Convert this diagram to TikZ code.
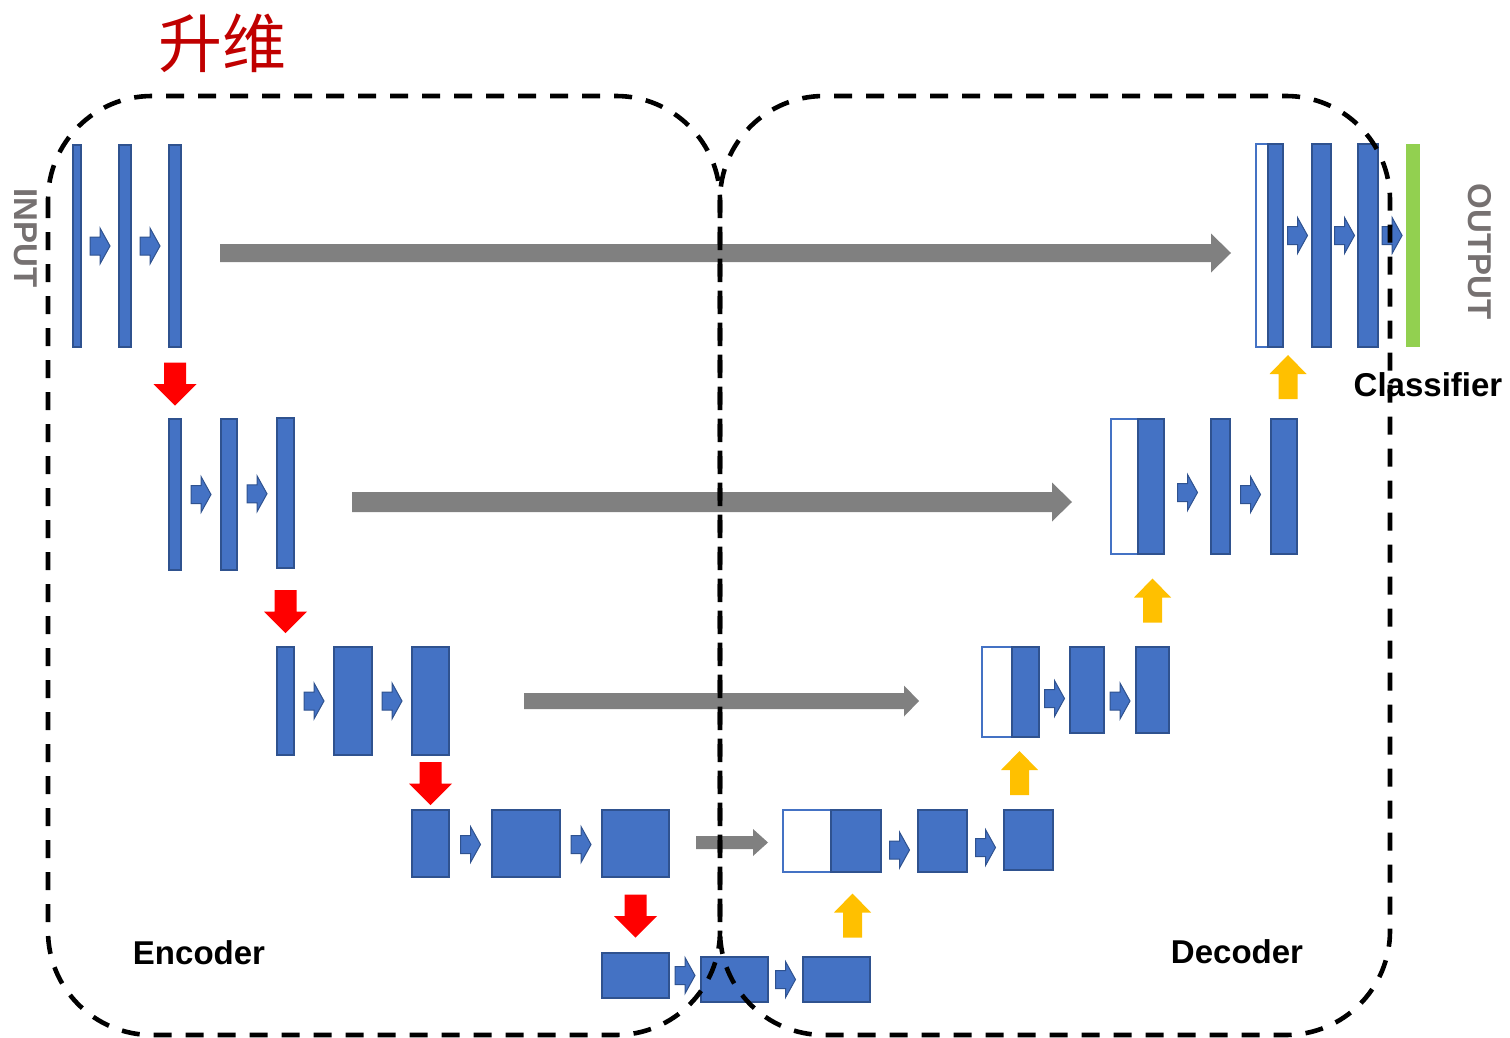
\documentclass[tikz,border=0pt]{standalone}
\usepackage{fontspec}
\newfontfamily\arial{Liberation Sans}
\newfontfamily\cjk{Noto Sans CJK SC}
\usetikzlibrary{fit,calc}

\definecolor{blockblue}{HTML}{4472C4}
\definecolor{edgeblue}{HTML}{2F528F}
\definecolor{downred}{HTML}{FF0000}
\definecolor{upgold}{HTML}{FFC000}
\definecolor{skipgray}{HTML}{808080}
\definecolor{outgreen}{HTML}{92D050}
\definecolor{titlered}{HTML}{C00000}
\definecolor{iogray}{HTML}{767171}

\tikzset{
  blk/.style={fill=blockblue, draw=edgeblue, line width=0.6pt, inner sep=0pt},
  wblk/.style={fill=white, draw=blockblue, line width=0.9pt, inner sep=0pt},
  gblk/.style={fill=outgreen, inner sep=0pt},
  lbl/.style={font=\arial\bfseries\fontsize{16.5}{20}\selectfont, inner sep=0pt},
  io/.style={font=\arial\bfseries\fontsize{16.5}{20}\selectfont, text=iogray, inner sep=0pt, rotate=-90},
  dashbox/.style={draw=black, line width=2.3pt, dash pattern=on 9pt off 7pt, rounded corners=52pt},
  sarr/.pic={\filldraw[fill=blockblue, draw=edgeblue, line width=0.5pt]
      (-10,-9) -- (0,-9) -- (0,-18) -- (10,0) -- (0,18) -- (0,9) -- (-10,9) -- cycle;},
  redarr/.pic={\fill[downred]
      (-11,-21.5) -- (11,-21.5) -- (11,0) -- (21.5,0) -- (0,21.5) -- (-21.5,0) -- (-11,0) -- cycle;},
  yelarr/.pic={\fill[upgold]
      (-9.5,22) -- (9.5,22) -- (9.5,-3) -- (18.5,-3) -- (0,-22) -- (-18.5,-3) -- (-9.5,-3) -- cycle;},
}

% a feature-map block spanning two corners
\newcommand\blockat[6]{\node[#1, fit={(#3,#4) (#5,#6)}] (#2) {};}
% small convolution arrow between two blocks, with a vertical offset
\newcommand\stepto[3]{\pic at ($(#1.east)!0.5!(#2.west)+(0,#3)$) {sarr};}
% wide skip-connection arrow: start, end, half body, half head, head length
\newcommand\skiparrow[5]{\fill[skipgray] ($(#1)+(0,-#3)$) -- ($(#2)+(-#5,-#3)$) -- ($(#2)+(-#5,-#4)$) -- (#2)
   -- ($(#2)+(-#5,#4)$) -- ($(#2)+(-#5,#3)$) -- ($(#1)+(0,#3)$) -- cycle;}

\begin{document}
\begin{tikzpicture}[x=0.5pt, y=-0.5pt]
\useasboundingbox (0,0) rectangle (1510,1038);

% ---------- skip connections ----------
\coordinate (g1s) at (220,253);  \coordinate (g1e) at (1231,253);
\coordinate (g2s) at (352,502);  \coordinate (g2e) at (1072,502);
\coordinate (g3s) at (524,701);  \coordinate (g3e) at (919,701);
\coordinate (g4s) at (696,842.5);\coordinate (g4e) at (768,842.5);
\skiparrow{g1s}{g1e}{9}{19.5}{20}
\skiparrow{g2s}{g2e}{10}{19.5}{20}
\skiparrow{g3s}{g3e}{8}{15.5}{15}
\skiparrow{g4s}{g4e}{6.5}{13.5}{15}

% ---------- encoder ----------
\blockat{blk}{e11}{73}{145}{81}{347}
\blockat{blk}{e12}{119}{145}{131}{347}
\blockat{blk}{e13}{169}{145}{181}{347}
\stepto{e11}{e12}{0}
\stepto{e12}{e13}{0}

\blockat{blk}{e21}{169}{419}{181}{570}
\blockat{blk}{e22}{221}{419}{237}{570}
\blockat{blk}{e23}{277}{418}{294}{568}
\stepto{e21}{e22}{0}
\stepto{e22}{e23}{0}

\blockat{blk}{e31}{277}{647}{294}{755}
\blockat{blk}{e32}{334}{647}{372}{755}
\blockat{blk}{e33}{412}{647}{449}{755}
\stepto{e31}{e32}{0}
\stepto{e32}{e33}{0}

\blockat{blk}{e41}{412}{810}{449}{877}
\blockat{blk}{e42}{492}{810}{560}{877}
\blockat{blk}{e43}{602}{810}{669}{877}
\stepto{e41}{e42}{1}
\stepto{e42}{e43}{1}

% ---------- bottleneck ----------
\blockat{blk}{b1}{602}{953}{669}{998}
\blockat{blk}{b2}{701}{957}{768}{1002}
\blockat{blk}{b3}{803}{957}{870}{1002}
\stepto{b1}{b2}{-2}
\stepto{b2}{b3}{0}

% ---------- down-sampling ----------
\pic at ($(e13.south)+(0,36.5)$) {redarr};
\pic at ($(e23.south)+(0,43)$) {redarr};
\pic at ($(e33.south)+(0,28)$) {redarr};
\pic at ($(e43.south)+(0,38.5)$) {redarr};

% ---------- decoder ----------
\blockat{wblk}{d41w}{783}{810}{831}{872}
\blockat{blk}{d41}{831}{810}{881}{872}
\blockat{blk}{d42}{918}{810}{967}{872}
\blockat{blk}{d43}{1004}{810}{1053}{870}
\stepto{d41}{d42}{9}
\stepto{d42}{d43}{7}

\blockat{wblk}{d31w}{982}{647}{1012}{737}
\blockat{blk}{d31}{1012}{647}{1039}{737}
\blockat{blk}{d32}{1070}{647}{1104}{733}
\blockat{blk}{d33}{1136}{647}{1169}{733}
\stepto{d31}{d32}{7.5}
\stepto{d32}{d33}{11}

\blockat{wblk}{d21w}{1111}{419}{1138}{554}
\blockat{blk}{d21}{1138}{419}{1164}{554}
\blockat{blk}{d22}{1211}{419}{1230}{554}
\blockat{blk}{d23}{1271}{419}{1297}{554}
\stepto{d21}{d22}{6}
\stepto{d22}{d23}{8}

\blockat{wblk}{d11w}{1256}{144}{1268}{347}
\blockat{blk}{d11}{1268}{144}{1283}{347}
\blockat{blk}{d12}{1312}{144}{1331}{347}
\blockat{blk}{d13}{1358}{144}{1378}{347}
\blockat{gblk}{out}{1406}{144}{1420}{347}
\stepto{d11}{d12}{-10}
\stepto{d12}{d13}{-10}
\stepto{d13}{out}{-10}

% ---------- up-sampling ----------
\pic at (852.5,915.5) {yelarr};
\pic at (1019.5,773) {yelarr};
\pic at (1152.5,600.5) {yelarr};
\pic at (1288,377) {yelarr};

% ---------- labels ----------
\node[font=\cjk\fontsize{32}{36}\selectfont, text=titlered, inner sep=0pt] (title) at (222,43) {升维};
\node[io] (inp) at (25.5,238) {INPUT};
\node[io] (outp) at (1480,251.5) {OUTPUT};
\node[lbl] (cls) at (1428,385) {Classifier};
\node[lbl] (enc) at (199,953) {Encoder};
\node[lbl] (dec) at (1237,952) {Decoder};

% ---------- encoder / decoder regions ----------
\draw[dashbox] (48,96) rectangle (720,1035);
\draw[dashbox] (720,96) rectangle (1390,1035);
\end{tikzpicture}
\end{document}
